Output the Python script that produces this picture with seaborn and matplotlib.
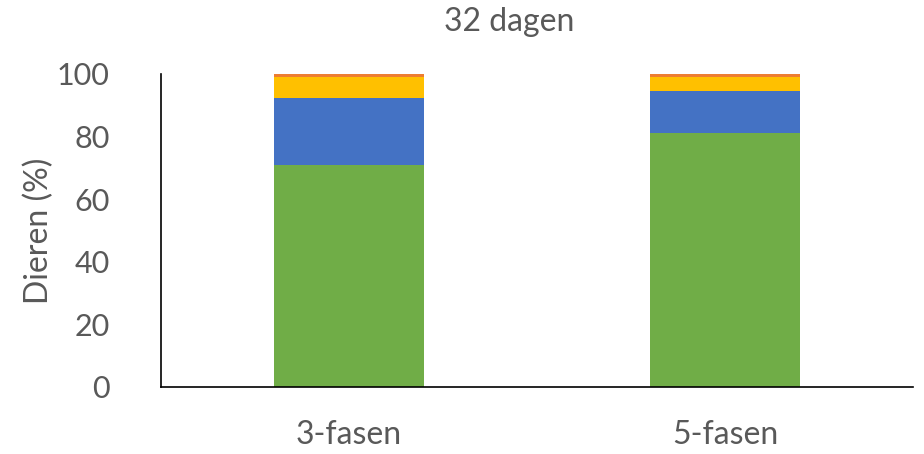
import numpy as np
import pandas as pd
import matplotlib
matplotlib.use("Agg")
import matplotlib.pyplot as plt
import seaborn as sns

categories = ["3-fasen", "5-fasen"]
green = [71.0, 81.0]
blue = [21.4, 13.6]
yellow = [6.6, 4.3]
orange = [1.0, 1.1]
y_ticks = [0, 20, 40, 60, 80, 100]

sns.set_theme(style="white")
plt.rcParams['font.family'] = ['Lato', 'DejaVu Sans']

fig = plt.figure(figsize=(9.24, 4.54), dpi=100)
ax = fig.add_axes([161/924, 1-387/454, 752/924, 313/454])

series = [green, blue, yellow, orange]
colors = ["#70AD47", "#4472C4", "#FFC000", "#ED7D31"]
cum = np.cumsum(np.array(series), axis=0)
for i in range(len(series) - 1, -1, -1):
    df = pd.DataFrame({"cat": categories, "val": cum[i]})
    sns.barplot(data=df, x="cat", y="val", color=colors[i], width=0.4,
                saturation=1, ax=ax, edgecolor="none", linewidth=0)

ax.set_ylim(0, 100)
ax.set_xlim(-0.5, 1.5)
ax.set_yticks(y_ticks)
ax.set_yticklabels([str(t) for t in y_ticks])
ax.tick_params(axis='both', labelsize=22, labelcolor="#595959", length=0)
ax.tick_params(axis='x', labelsize=23, pad=24)
ax.tick_params(axis='y', pad=37)
ax.set_xlabel("")
ax.set_ylabel("Dieren (%)", fontsize=23, color="#595959")
ax.yaxis.set_label_coords(-0.142, 0.5)
fig.text(509/924, 1-22/454, "32 dagen", fontsize=23, color="#595959",
         ha="center", va="center")
for s in ["top", "right"]:
    ax.spines[s].set_visible(False)
for s in ["left", "bottom"]:
    ax.spines[s].set_color("black")
    ax.spines[s].set_linewidth(1.2)

fig.savefig("out.png", dpi=100)
